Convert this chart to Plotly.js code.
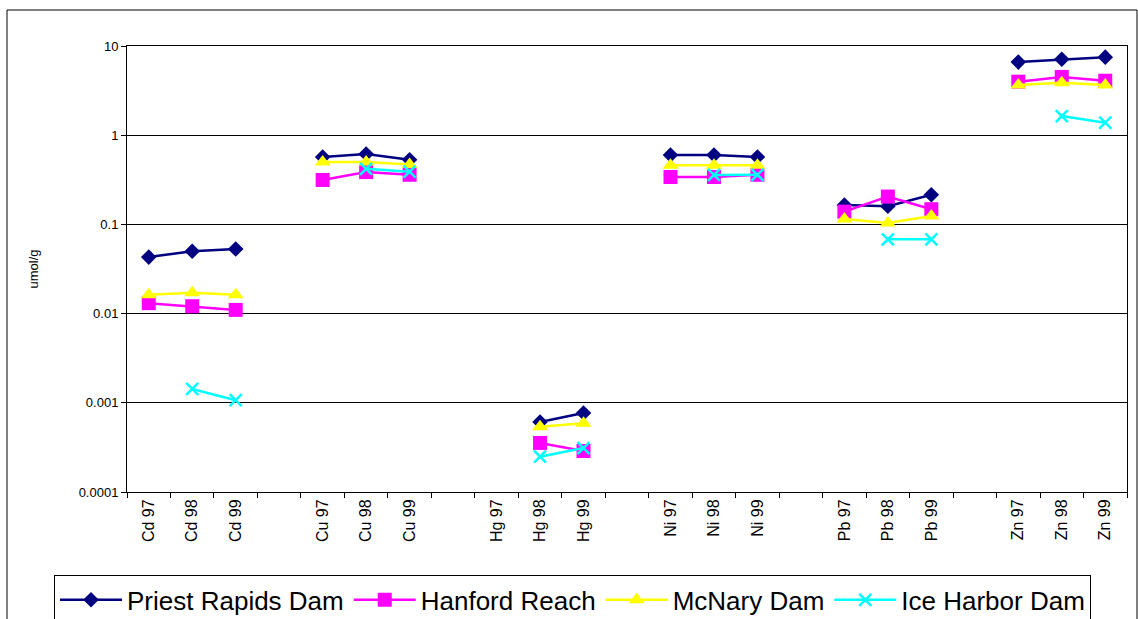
<!DOCTYPE html>
<html><head><meta charset="utf-8">
<script src="https://cdn.plot.ly/plotly-3.0.1.min.js"></script>
<style>body{margin:0;background:#fff}#c{width:1138px;height:619px}</style>
</head><body><div id="c"></div>
<script>
var categories = ["Cd 97","Cd 98","Cd 99"," ","Cu 97","Cu 98","Cu 99","  ","Hg 97","Hg 98","Hg 99","   ","Ni 97","Ni 98","Ni 99","    ","Pb 97","Pb 98","Pb 99","     ","Zn 97","Zn 98","Zn 99"];
var priestRapids = [0.043,0.050,0.053,null, 0.57,0.615,0.53,null, null,0.00061,0.00077,null, 0.60,0.60,0.57,null, 0.165,0.16,0.215,null, 6.6,7.1,7.5];
var hanfordReach = [0.0131,0.0121,0.0110,null, 0.315,0.386,0.36,null, null,0.000355,0.000288,null, 0.34,0.34,0.36,null, 0.139,0.205,0.148,null, 3.98,4.5,4.08];
var mcNaryDam = [0.0163,0.0171,0.0163,null, 0.50,0.50,0.47,null, null,0.00054,0.00059,null, 0.46,0.46,0.46,null, 0.115,0.104,0.124,null, 3.65,3.88,3.65];
var iceHarborDam = [null,0.00143,0.00107,null, null,0.42,0.39,null, null,0.000249,0.000311,null, null,0.358,0.36,null, null,0.068,0.068,null, null,1.64,1.38];
var yTickVals = [0.0001,0.001,0.01,0.1,1,10];
var yTickText = ["0.0001","0.001","0.01","0.1","1","10"];

function tr(name, y, color, symbol, size, extra){
  var m = {color: color, size: size, symbol: symbol};
  if (extra) m.line = extra;
  return {type:'scatter', mode:'lines+markers', name:name, x:categories, y:y,
    connectgaps:false, line:{color:color, width:2.5}, marker:m};
}
var data = [
  tr('Priest Rapids Dam', priestRapids, '#000080', 'diamond', 12),
  tr('Hanford Reach', hanfordReach, '#FF00FF', 'square', 14),
  tr('McNary Dam', mcNaryDam, '#FFFF00', 'triangle-up', 14),
  tr('Ice Harbor Dam', iceHarborDam, '#00FFFF', 'x-thin-open', 12, {color:'#00FFFF', width:2.5})
];
var layout = {
  width:1138, height:619,
  margin:{l:127, r:11, t:46, b:127, autoexpand:false},
  paper_bgcolor:'#fff', plot_bgcolor:'#fff',
  font:{family:'Arial, Liberation Sans, sans-serif', color:'#000'},
  showlegend:true,
  legend:{orientation:'h', x:-0.073, xanchor:'left', y:-0.187, yanchor:'top',
    bgcolor:'#fff', bordercolor:'#000', borderwidth:1,
    font:{size:26, family:'Arial, Liberation Sans, sans-serif'},
    itemwidth:62, tracegroupgap:0},
  xaxis:{type:'category', categoryorder:'array', categoryarray:categories,
    tickmode:'array', tickvals:categories, ticktext:categories,
    tickson:'boundaries', ticks:'outside', ticklen:5, tickcolor:'#000',
    tickangle:-90, tickfont:{size:16},
    showgrid:false, showline:true, linecolor:'#000', linewidth:1, mirror:true,
    range:[-0.5,22.5], zeroline:false},
  yaxis:{type:'log', range:[-4,1], tickmode:'array', tickvals:yTickVals, ticktext:yTickText,
    ticks:'outside', ticklen:5, tickcolor:'#000', tickfont:{size:13},
    showgrid:true, gridcolor:'#000', gridwidth:1,
    showline:true, linecolor:'#000', linewidth:1, mirror:true, zeroline:false,
    title:{text:'umol/g', font:{size:13}, standoff:37}},
  shapes:[{type:'rect', xref:'paper', yref:'paper', x0:-0.12, x1:1.01, y0:-0.4, y1:1.0807,
    line:{color:'#000', width:1}, fillcolor:'rgba(0,0,0,0)', layer:'below'}]
};
Plotly.newPlot('c', data, layout, {displayModeBar:false, staticPlot:true});
</script></body></html>
